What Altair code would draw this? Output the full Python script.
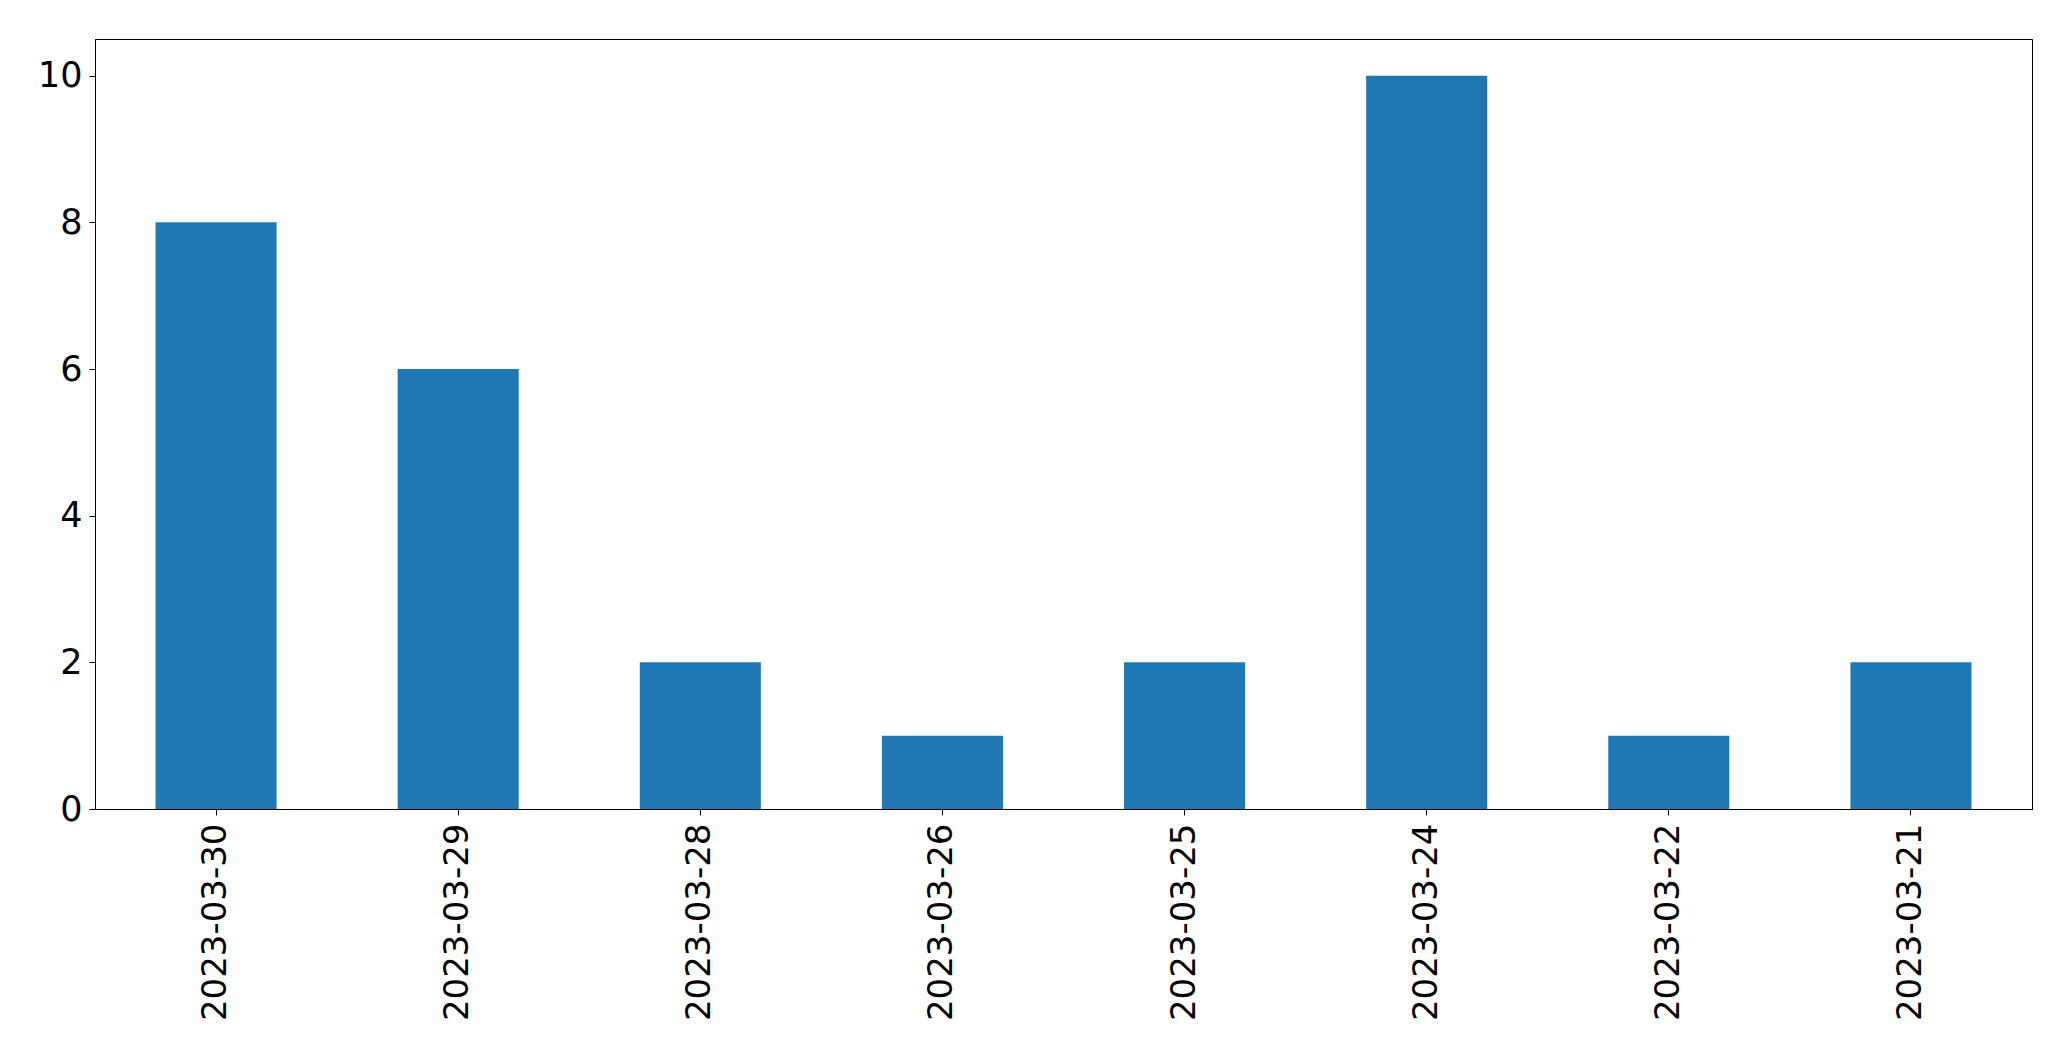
import altair as alt
import pandas as pd

dates = ["2023-03-30", "2023-03-29", "2023-03-28", "2023-03-26",
         "2023-03-25", "2023-03-24", "2023-03-22", "2023-03-21"]
counts = [8, 6, 2, 1, 2, 10, 1, 2]
y_ticks = [0, 2, 4, 6, 8, 10]

df = pd.DataFrame({"date": dates, "count": counts})

FONT = "DejaVu Sans"

chart = alt.Chart(df).mark_bar(color="#1f77b4").encode(
    x=alt.X("date:N", sort=dates, title=None,
            scale=alt.Scale(paddingInner=0.5, paddingOuter=0.25),
            axis=alt.Axis(labelAngle=270, labelFontSize=34, labelFont=FONT,
                          labelColor="black", tickColor="black", domainColor="black",
                          tickSize=6, labelPadding=8, domainWidth=1, tickWidth=1,
                          labelLimit=500)),
    y=alt.Y("count:Q", title=None,
            scale=alt.Scale(domain=[0, 10.5], nice=False, zero=True),
            axis=alt.Axis(values=y_ticks, grid=False, labelFontSize=35, labelFont=FONT,
                          labelColor="black", tickColor="black", domainColor="black",
                          tickSize=6, labelPadding=7, domainWidth=1, tickWidth=1,
                          minExtent=87, maxExtent=87)),
).properties(
    width=1937,
    height=770,
    padding={"left": 0, "top": 31, "right": 5, "bottom": 5},
).configure_view(
    stroke="black", strokeWidth=1
)

chart.save("out.html", embed_options={"renderer": "svg", "actions": False})
